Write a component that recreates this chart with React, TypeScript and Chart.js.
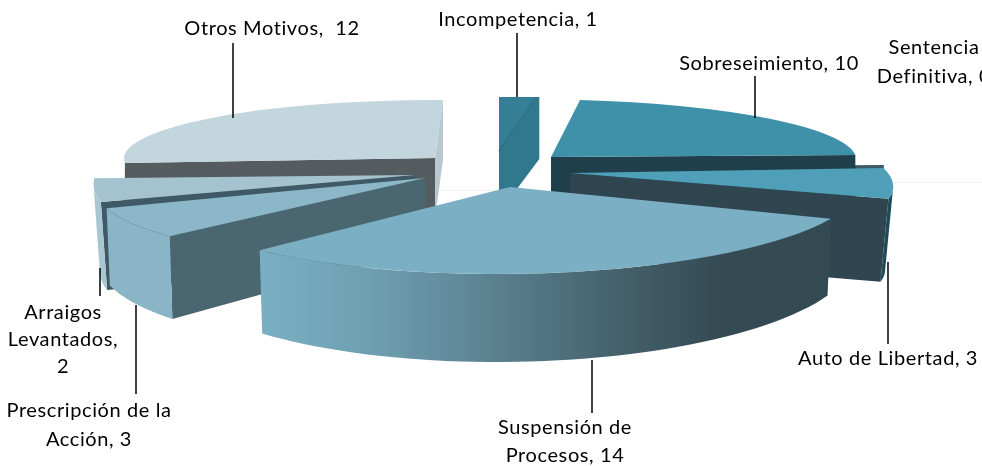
import React, { useEffect, useRef } from "react";
import { Chart, registerables } from "chart.js";

Chart.register(...registerables);

const categories = ["Incompetencia", "Sobreseimiento", "Sentencia Definitiva", "Auto de Libertad", "Suspensión de Procesos", "Prescripción de la Acción", "Arraigos Levantados", "Otros Motivos"];
const values = [1, 10, 0, 3, 14, 3, 2, 12];
const topColors = ["#347f96", "#3f91a9", "#3e5a66", "#4f9fb9", "#7bafc3", "#8cb7c8", "#a4c3cf", "#c3d5dd"];

// 3-D projection of each exploded wedge: px/py = explosion apex, a,b,c,d = ellipse matrix,
// depth = wall height, sx/sy = scale of the lower ring (perspective)
const views = [
  { px: 499, py: 151, a: 268, b: 54, c: 0, d: -3, depth: 62, sx: 1, sy: 1, endFace: "#30788c", faceDx: 3, edge: "#2c7085" },
  { px: 551, py: 157, a: 305, b: 57.6, c: 13.5, d: 0, depth: 60, sx: 1, sy: 1, endFace: "#1f3f4a" },
  { px: 566, py: 167, a: 318, b: 60, c: 0, d: 0, depth: 8, sx: 1, sy: 1, endFace: "#3e5a66" },
  { px: 570, py: 173, a: 316, b: 75, c: 68, d: -2.4, depth: 83, sx: 0.975, sy: 1, endFace: "#2f4650", rim: ["#1e4a59", "#1e4a59"] },
  { px: 510, py: 187, a: 350, b: 87, c: -10, d: -1, depth: 70.6, sx: 0.99, sy: 1.2, rim: ["#7aafc3", "#6d9fb0", "#5c8292", "#476570", "#354b54", "#344a53"] },
  { px: 425, py: 178, a: 328, b: 81, c: -38, d: 0, depth: 71, sx: 0.99, sy: 1.2, startFace: "#4a6670", rim: ["#8ab5c6", "#8ab5c6"] },
  { px: 415, py: 175, a: 317, b: 87, c: -54, d: 6, depth: 88, sx: 0.98, sy: 1, startFace: "#3f5a66", rim: ["#a9c7d2", "#a9c7d2"] },
  { px: 435, py: 158, a: 311, b: 58, c: -8, d: 1, depth: 60, sx: 1, sy: 1, startFace: "#555c60", endFace: "#b9c8cf" },
];
const paintOrder = [7, 0, 2, 1, 6, 5, 3, 4];

const labelLines = [
  ["Incompetencia, 1"],
  ["Sobreseimiento, 10"],
  ["Sentencia", "Definitiva, 0"],
  ["Auto de Libertad, 3"],
  ["Suspensión de", "Procesos, 14"],
  ["Prescripción de la", "Acción, 3"],
  ["Arraigos", "Levantados,", "2"],
  ["Otros Motivos,  12"],
];
const labelSpots = [
  { x: 518, y: 20, step: 28 },
  { x: 769, y: 64, step: 28 },
  { x: 934, y: 48, step: 29 },
  { x: 888, y: 359, step: 28 },
  { x: 565, y: 428, step: 28 },
  { x: 89, y: 411, step: 29 },
  { x: 63, y: 313, step: 27 },
  { x: 272, y: 29, step: 28 },
];
const leaders = [
  [517, 33, 97],
  [755, 76, 118],
  [888, 262, 344],
  [592, 360, 413],
  [136, 305, 394],
  [100, 268, 296],
  [233, 43, 118],
];
const faintRules = [
  [893, 982, 182],
  [440, 500, 190],
];

const depthPlugin = {
  id: "depth3d",
  beforeDatasetsDraw(chart: any) {
    const { ctx } = chart;
    const arcs = chart.getDatasetMeta(0).data;
    ctx.save();
    ctx.strokeStyle = "#f2f2f2";
    ctx.lineWidth = 1;
    for (const [x0, x1, y] of faintRules) {
      ctx.beginPath();
      ctx.moveTo(x0, y + 0.5);
      ctx.lineTo(x1, y + 0.5);
      ctx.stroke();
    }
    ctx.restore();
    for (const i of paintOrder) {
      const arc = arcs[i];
      const v: any = views[i];
      const { x, y, startAngle, endAngle, outerRadius: R } = arc.getProps(["x", "y", "startAngle", "endAngle", "outerRadius"], true);
      const project = (t: number) => ({
        x: v.px + v.a * Math.cos(t) + v.c * Math.sin(t),
        y: v.py + v.d * Math.cos(t) + v.b * Math.sin(t),
      });
      const lower = (p: { x: number; y: number }) => ({
        x: v.px + (p.x - v.px) * v.sx,
        y: v.py + v.depth + (p.y - v.py) * v.sy,
      });
      const face = (t: number, color: string) => {
        const p = project(t);
        const dx = v.faceDx || 0;
        const q = lower(p);
        ctx.beginPath();
        ctx.moveTo(v.px, v.py);
        ctx.lineTo(p.x, p.y);
        ctx.lineTo(p.x + dx, p.y);
        ctx.lineTo(q.x + dx, q.y);
        ctx.lineTo(v.px, v.py + v.depth);
        ctx.closePath();
        ctx.fillStyle = color;
        ctx.fill();
      };
      if (v.endFace) face(endAngle, v.endFace);
      if (v.startFace) face(startAngle, v.startFace);
      if (v.rim) {
        const n = 48;
        const pts = [];
        // only the part of the rim that faces the viewer
        const t0 = Math.atan2(v.c, v.a);
        const from = Math.max(startAngle, t0);
        const to = Math.min(endAngle, t0 + Math.PI);
        for (let k = 0; k <= n; k++) pts.push(project(from + ((to - from) * k) / n));
        const xs = pts.map((p) => p.x);
        const g = ctx.createLinearGradient(Math.min(...xs), 0, Math.max(...xs), 0);
        const stops: string[] = v.rim;
        stops.forEach((c, k) => g.addColorStop(k / (stops.length - 1), c));
        ctx.beginPath();
        pts.forEach((p, k) => (k ? ctx.lineTo(p.x, p.y) : ctx.moveTo(p.x, p.y)));
        [...pts].reverse().forEach((p) => {
          const q = lower(p);
          ctx.lineTo(q.x, q.y);
        });
        ctx.closePath();
        ctx.fillStyle = g;
        ctx.fill();
      }
      ctx.save();
      ctx.transform(v.a / R, v.d / R, v.c / R, v.b / R, v.px, v.py);
      ctx.translate(-x, -y);
      arc.draw(ctx);
      ctx.restore();
      if (v.edge) {
        const p = project(endAngle);
        ctx.save();
        ctx.strokeStyle = v.edge;
        ctx.lineWidth = 1.5;
        ctx.beginPath();
        ctx.moveTo(v.px, v.py);
        ctx.lineTo(p.x, p.y);
        ctx.stroke();
        ctx.restore();
      }
    }
    return false;
  },
  afterDraw(chart: any) {
    const { ctx } = chart;
    ctx.save();
    ctx.strokeStyle = "#000";
    ctx.lineWidth = 1.5;
    for (const [lx, y0, y1] of leaders) {
      ctx.beginPath();
      ctx.moveTo(lx, y0);
      ctx.lineTo(lx, y1);
      ctx.stroke();
    }
    ctx.fillStyle = "#000";
    ctx.font = "20px Lato";
    (ctx as any).letterSpacing = "0.6px";
    ctx.textAlign = "center";
    ctx.textBaseline = "middle";
    labelLines.forEach((lines, i) => {
      const s = labelSpots[i];
      lines.forEach((t, k) => ctx.fillText(t, s.x, s.y + k * s.step));
    });
    ctx.restore();
  },
};

export default function App() {
  const ref = useRef<HTMLCanvasElement>(null);
  useEffect(() => {
    const chart = new Chart(ref.current!, {
      type: "pie",
      data: {
        labels: categories,
        datasets: [{ data: values, backgroundColor: topColors, borderWidth: 0 }],
      },
      options: {
        animation: false,
        responsive: false,
        plugins: { legend: { display: false }, tooltip: { enabled: false } },
      },
      plugins: [depthPlugin],
    } as any);
    return () => chart.destroy();
  }, []);
  return (
    <canvas
      ref={ref}
      width={982}
      height={466}
      style={{ position: "absolute", left: 0, top: 0, width: 982, height: 466, display: "block" }}
    />
  );
}
